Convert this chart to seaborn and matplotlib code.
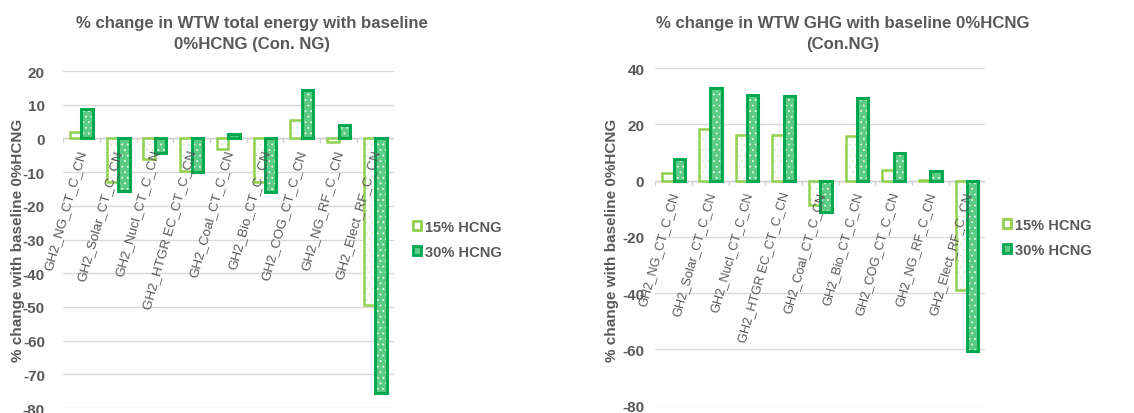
import matplotlib
matplotlib.use("Agg")
import matplotlib.pyplot as plt
from matplotlib.patches import Rectangle
import pandas as pd
import seaborn as sns

categories = ["GH2_NG_CT_C_CN", "GH2_Solar_CT_C_CN", "GH2_Nucl_CT_C_CN",
              "GH2_HTGR EC_CT_C_CN", "GH2_Coal_CT_C_CN", "GH2_Bio_CT_C_CN",
              "GH2_COG_CT_C_CN", "GH2_NG_RF_C_CN", "GH2_Elect_RF_C_CN"]
series = ["15% HCNG", "30% HCNG"]

# % change in WTW total energy
energy_15 = [2.0, -12.8, -6.0, -9.6, -3.0, -13.0, 5.5, -1.2, -49.5]
energy_30 = [8.7, -15.5, -4.2, -10.0, 1.3, -15.8, 14.4, 4.0, -75.4]

# % change in WTW GHG
ghg_15 = [2.6, 18.2, 16.4, 16.2, -8.6, 15.9, 3.8, 0.2, -38.9]
ghg_30 = [7.6, 33.1, 30.3, 30.1, -11.0, 29.5, 9.8, 3.4, -60.4]

titles = ["% change in WTW total energy with baseline\n0%HCNG (Con. NG)",
          "% change in WTW GHG with baseline 0%HCNG\n(Con.NG)"]
ylabel = "% change with baseline 0%HCNG"

GREY = "#595959"
LIGHT = "#92d050"
DARK = "#00a84f"

sns.set_style("white")
plt.rcParams["font.family"] = ["Liberation Sans", "DejaVu Sans"]
plt.rcParams["hatch.linewidth"] = 0.6
plt.rcParams["axes.unicode_minus"] = False

fig = plt.figure(figsize=(11.34, 4.14), dpi=100)
ax1 = fig.add_axes([0.0556, 0.012, 0.2915, 0.814])
ax2 = fig.add_axes([0.578, 0.0176, 0.291, 0.8154])


def long_frame(v15, v30):
    return pd.DataFrame({
        "category": categories * 2,
        "series": [series[0]] * len(categories) + [series[1]] * len(categories),
        "value": list(v15) + list(v30),
    })


def style_bars(ax):
    light, dark = ax.containers[0], ax.containers[1]
    for p in light:
        p.set_facecolor("white")
        p.set_edgecolor("#d5ecc4")
        p.set_hatch("...")
        p.set_linewidth(0)
        ax.add_patch(Rectangle(p.get_xy(), p.get_width(), p.get_height(),
                               fill=False, edgecolor=LIGHT, linewidth=1.8, zorder=3))
    for p in dark:
        p.set_facecolor("#5ccb84")
        p.set_edgecolor("#e8f7ec")
        p.set_hatch("...")
        p.set_linewidth(0)
        ax.add_patch(Rectangle(p.get_xy(), p.get_width(), p.get_height(),
                               fill=False, edgecolor=DARK, linewidth=2.2, zorder=3))


def draw(ax, v15, v30, ylim, step, title, title_x, ylabel_x, tick_pad, label_size, legend_xy):
    df = long_frame(v15, v30)
    sns.barplot(data=df, x="category", y="value", hue="series", ax=ax,
                width=0.62, gap=0, legend=False, zorder=2)
    style_bars(ax)
    ax.set_ylim(ylim[0], ylim[1])
    ax.set_yticks(range(ylim[0], ylim[1] + 1, step))
    ax.set_xlim(-0.5, len(categories) - 0.5)
    ax.yaxis.grid(True, color="#d9d9d9", linewidth=1.0, zorder=0)
    ax.set_axisbelow(True)
    for s in ax.spines.values():
        s.set_visible(False)
    ax.axhline(0, color="#d0d0d0", linewidth=1.0, zorder=1)
    for i in range(len(categories) + 1):
        ax.plot([i - 0.5, i - 0.5], [0, -(ylim[1] - ylim[0]) * 0.012],
                color="#d0d0d0", linewidth=1.0, zorder=1)
    ax.set_xticks([])
    ax.set_xlabel("")
    ax.set_ylabel("")
    ax.tick_params(axis="y", length=0, pad=tick_pad, labelsize=11, labelcolor=GREY)
    for t in ax.get_yticklabels():
        t.set_fontweight("bold")
    for i, c in enumerate(categories):
        ax.annotate(c, xy=(i, 0), xytext=(1, -8), textcoords="offset points",
                    rotation=74, rotation_mode="anchor", ha="right", va="center",
                    fontsize=label_size, color=GREY, zorder=4)
    fig.text(title_x, 0.918, title, ha="center", va="center", fontsize=12.1,
             fontweight="bold", color=GREY, linespacing=1.45)
    fig.text(ylabel_x, 0.42, ylabel, rotation=90, ha="center", va="center",
             fontsize=11, fontweight="bold", color=GREY)
    handles = [Rectangle((0, 0), 1, 1, facecolor="white", edgecolor=LIGHT, linewidth=2),
               Rectangle((0, 0), 1, 1, facecolor="#5ccb84", edgecolor=DARK, linewidth=2)]
    fig.legend(handles, series, loc="center left", bbox_to_anchor=legend_xy,
               frameon=False, handlelength=0.55, handleheight=0.55, handletextpad=0.25,
               labelspacing=0.75, prop={"size": 10.5, "weight": "bold"}, labelcolor=GREY)


draw(ax1, energy_15, energy_30, (-80, 20), 10, titles[0], 0.222, 0.016, 13, 9.6,
     (0.353, 0.42))
draw(ax2, ghg_15, ghg_30, (-80, 40), 20, titles[1], 0.743, 0.540, 8, 9.2,
     (0.873, 0.424))

fig.savefig("out.png", dpi=100)
